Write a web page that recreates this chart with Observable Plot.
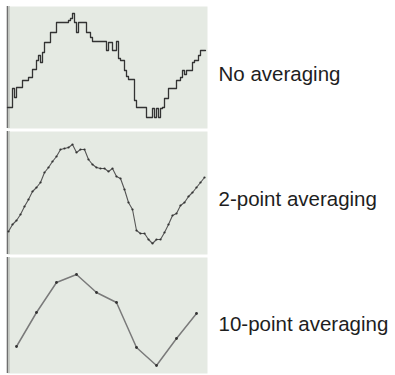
<!DOCTYPE html>
<html>
<head>
<meta charset="utf-8">
<script src="https://cdn.jsdelivr.net/npm/d3@7"></script>
<script src="https://cdn.jsdelivr.net/npm/@observablehq/plot@0.6"></script>
<style>
  html, body { margin: 0; padding: 0; background: #ffffff; }
  #chart { position: relative; width: 395px; height: 375px; overflow: hidden; }
  #chart svg { position: absolute; left: 0; }
</style>
</head>
<body>
<div id="chart"></div>
<script>
// Raw signal (100 samples)
const rawValues = [21,21,21,40,31,41,41,41,48,48,48,51,51,59,59,68,73,66,76,86,
  86,86,96,96,96,106,106,106,106,106,106,108,110,115,106,96,106,106,106,106,
  96,96,91,87,87,87,87,87,87,87,78,86,86,78,78,87,70,68,68,58,
  52,49,49,49,28,21,21,21,21,21,11,11,11,20,11,20,11,20,21,30,
  30,40,40,40,40,48,48,51,58,54,58,58,58,66,68,68,73,78,78,78];
// 2-point averaged signal (50 samples)
const avg2Values = [23,30,34,40,48,55,63,67,72,82,87,93,98,105,106,107,110,102,105,105,
  95,90,87,86,86,83,86,78,76,65,52,45,24,21,21,15,11,15,15,22,
  30,39,41,49,52,58,62,67,72,77];
// 10-point averaged signal (10 samples)
const avg10Values = [27,61,91,99,81,71,26,8,35,60];
const labels = ["No averaging", "2-point averaging", "10-point averaging"];

const panels = [
  {top: 6, height: 122, values: rawValues, step: 1, offset: 0, label: labels[0], dots: false, curve: "step", lineColor: "#333", lineWidth: 1.3, labelY: 74},
  {top: 131, height: 123, values: avg2Values, step: 2, offset: 0.5, label: labels[1], dots: true, curve: "linear", lineColor: "#555", lineWidth: 1.1, dotR: 1.1, labelY: 74},
  {top: 257, height: 116, values: avg10Values, step: 10, offset: 4.5, label: labels[2], dots: true, curve: "linear", lineColor: "#7a7a7a", lineWidth: 1.5, dotR: 1.4, labelY: 73}
];

const chart = document.getElementById("chart");
for (const p of panels) {
  const data = p.values.map((v, k) => ({x: p.offset + p.step * k, y: v}));
  const marks = [
    Plot.frame({fill: "#e5eae3", stroke: null}),
    Plot.ruleX([0], {stroke: "#6f6f6f", strokeWidth: 1.6}),
    Plot.ruleX([1], {stroke: "#c9cdc7", strokeWidth: 1}),
    Plot.line(data, {x: "x", y: "y", curve: p.curve, stroke: p.lineColor, strokeWidth: p.lineWidth}),
  ];
  if (p.dots) marks.push(Plot.dot(data, {x: "x", y: "y", r: p.dotR, fill: "#333", stroke: null}));
  marks.push(Plot.text([p.label], {
    text: d => d, frameAnchor: "top-right", dx: 11, dy: p.labelY,
    textAnchor: "start", lineAnchor: "bottom",
    fontSize: 20.5, fill: "#1e1e1e"
  }));
  const svg = Plot.plot({
    width: 395, height: p.height,
    marginLeft: 7, marginRight: 188, marginTop: 0, marginBottom: 0,
    x: {domain: [0, 100], axis: null},
    y: {domain: [0, p.height], axis: null},
    style: {fontFamily: "'Liberation Sans', Arial, sans-serif", background: "transparent", overflow: "visible"},
    marks
  });
  svg.style.top = p.top + "px";
  chart.appendChild(svg);
}
</script>
</body>
</html>
